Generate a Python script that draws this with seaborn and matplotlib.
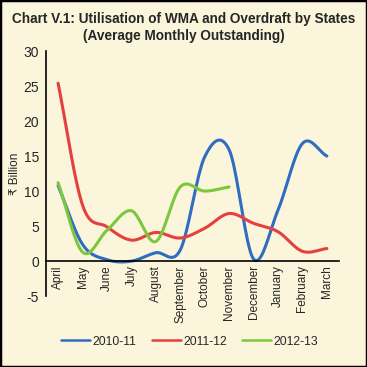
import matplotlib
matplotlib.use('Agg')

import matplotlib.pyplot as plt
import numpy as np
import pandas as pd
import seaborn as sns

# === Data (Rs billion, average monthly outstanding) ===
months = ["April", "May", "June", "July", "August", "September", "October",
          "November", "December", "January", "February", "March"]
y2010_11 = [10.8, 2.4, 0.2, 0.0, 1.2, 1.6, 14.9, 15.9, 0.3, 7.3, 16.8, 15.0]
y2011_12 = [25.4, 8.0, 4.9, 3.0, 4.1, 3.3, 4.7, 6.8, 5.4, 4.2, 1.4, 1.8]
y2012_13 = [11.2, 1.3, 4.4, 7.2, 2.8, 10.6, 10.0, 10.6]

series = {"2010-11": y2010_11, "2011-12": y2011_12, "2012-13": y2012_13}
colors = {"2010-11": "#2E6DBF", "2011-12": "#E5403D", "2012-13": "#7CC83C"}
BG = "#FBF5DC"


def smooth(vals, n=20):
    # Catmull-Rom curve through the monthly points (like a smoothed line chart)
    p = np.asarray(vals, dtype=float)
    x = np.arange(len(p), dtype=float)
    px = np.concatenate([[2 * x[0] - x[1]], x, [2 * x[-1] - x[-2]]])
    py = np.concatenate([[2 * p[0] - p[1]], p, [2 * p[-1] - p[-2]]])
    xs, ys = [], []
    t = np.linspace(0, 1, n, endpoint=False)
    for i in range(1, len(px) - 2):
        for arr, out in ((px, xs), (py, ys)):
            p0, p1, p2, p3 = arr[i - 1], arr[i], arr[i + 1], arr[i + 2]
            out.extend(0.5 * (2 * p1 + (-p0 + p2) * t
                              + (2 * p0 - 5 * p1 + 4 * p2 - p3) * t ** 2
                              + (-p0 + 3 * p1 - 3 * p2 + p3) * t ** 3))
    xs.append(x[-1])
    ys.append(p[-1])
    return xs, ys


rows = []
for name, vals in series.items():
    xs, ys = smooth(vals)
    rows += [{"x": a, "value": b, "year": name} for a, b in zip(xs, ys)]
df = pd.DataFrame(rows)

sns.set_style("white")
plt.rcParams['font.family'] = ['Liberation Sans', 'DejaVu Sans']
plt.rcParams['axes.unicode_minus'] = False

fig = plt.figure(figsize=(3.67, 3.67), dpi=100, facecolor=BG)
ax = fig.add_axes([0.125, 0.193, 0.799, 0.668])
ax.set_facecolor(BG)

sns.lineplot(data=df, x="x", y="value", hue="year", palette=colors,
             sort=False, linewidth=2.2, ax=ax, legend=True)

# axis line at zero (set before the tick labels, it resets them)
for s in ["top", "right"]:
    ax.spines[s].set_visible(False)
ax.spines["bottom"].set_position(("data", 0))
ax.spines["bottom"].set_linewidth(1.2)
ax.spines["left"].set_linewidth(1.2)
ax.spines["bottom"].set_color("black")
ax.spines["left"].set_color("black")

ax.set_xlim(-0.5, len(months) - 0.5)
ax.set_ylim(-5, 30)
ax.set_yticks(range(-5, 31, 5))
ax.set_xticks(range(len(months)))
ax.set_xticklabels(months, rotation=90, fontsize=8.5)
ax.set_xticks(np.arange(-0.5, len(months)), minor=True)
ax.tick_params(axis="x", which="major", length=0, pad=3)
ax.tick_params(axis="x", which="minor", length=3, width=1, direction="out", color="black")
ax.tick_params(axis="y", length=3, width=1, direction="out", labelsize=10, pad=2, color="black")
ax.set_xlabel("")
ax.set_ylabel("₹ Billion", fontsize=8.5, labelpad=2)

leg = ax.legend(loc="center", bbox_to_anchor=(0.49, -0.185), ncol=3, frameon=False,
                fontsize=8.7, handlelength=2.4, columnspacing=1.3, handletextpad=0.2)
for line in leg.get_lines():
    line.set_linewidth(1.8)

fig.text(0.5, 0.968, "Chart V.1: Utilisation of WMA and Overdraft by States\n(Average Monthly Outstanding)",
         ha="center", va="top", fontsize=9.8, fontweight="bold", linespacing=1.3)

fig.patches.append(plt.Rectangle((0, 0), 1, 1, transform=fig.transFigure, fill=False,
                                 edgecolor="black", linewidth=2.5))

fig.savefig("out.png", dpi=100, facecolor=BG)
